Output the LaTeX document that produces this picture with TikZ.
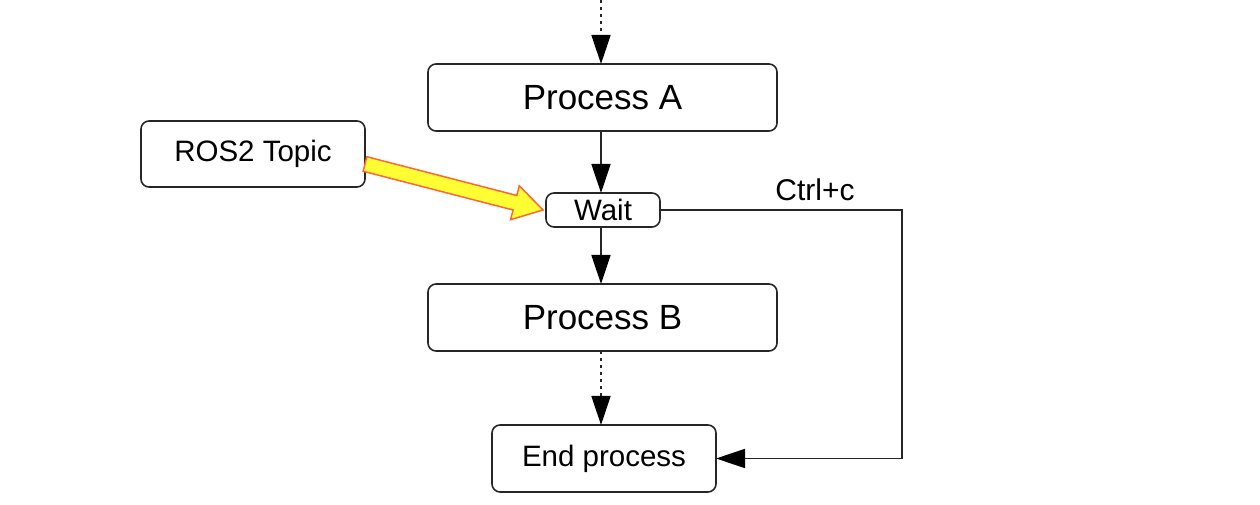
\documentclass[tikz,border=0pt]{standalone}
\usepackage{fontspec}
\setmainfont{Liberation Sans}
\usetikzlibrary{arrows.meta,calc}
\definecolor{yfill}{RGB}{255,255,51}
\definecolor{yedge}{RGB}{255,102,51}
\begin{document}
\begin{tikzpicture}[x=1pt,y=1pt,
  box/.style={draw=black!85,line width=1.6pt,rounded corners=8pt,inner sep=0pt,outer sep=0pt},
  big/.style={box,font=\fontsize{35}{40}\selectfont},
  small/.style={box,font=\fontsize{29.5}{34}\selectfont},
  conn/.style={draw=black!85,line width=1.6pt,-{Triangle[length=29pt,width=19pt,color=black,fill=black]}},
  dotconn/.style={conn,dash pattern=on 3pt off 4pt},
  yarrow/.style={fill=yfill,draw=yedge,line width=1.5pt,line join=miter}]
\useasboundingbox (0,0) rectangle (1260,505);
\node[big,minimum width=349pt,minimum height=67pt] (pa) at (602.5,407.5) {Process A};
\node[small,minimum width=224pt,minimum height=66pt] (ros) at (253,351) {ROS2 Topic};
\node[small,minimum width=114pt,minimum height=34pt] (wait) at (603,295) {Wait};
\node[big,minimum width=349pt,minimum height=67pt] (pb) at (602.5,187.5) {Process B};
\node[small,minimum width=224pt,minimum height=67pt] (endp) at (604,46.5) {End process};
\node[font=\fontsize{30}{34}\selectfont,inner sep=0pt] (ctrl) at (815,315) {Ctrl+c};
\coordinate (top) at (601,505);
\coordinate (c1) at (902,295);
\coordinate (c2) at (902,46.5);
\draw[dotconn] (top) -- (top |- pa.north);
\draw[conn] (top |- pa.south) -- (top |- wait.north);
\draw[conn] (top |- wait.south) -- (top |- pb.north);
\draw[dotconn] (top |- pb.south) -- (top |- endp.north);
\draw[conn] (wait.east) -- (c1) -- (c2) -- (endp.east);
\coordinate (ys) at ([yshift=-10pt]ros.east);
\coordinate (yt) at ([xshift=-3pt]wait.west);
\coordinate (hb) at ($(yt)!29pt!(ys)$);
\draw[yarrow] ($(ys)!7.5pt!90:(yt)$) -- ($(hb)!7.5pt!-90:(ys)$) -- ($(hb)!17.5pt!-90:(ys)$) -- (yt) -- ($(hb)!17.5pt!90:(ys)$) -- ($(hb)!7.5pt!90:(ys)$) -- ($(ys)!7.5pt!-90:(yt)$) -- cycle;
\end{tikzpicture}
\end{document}
